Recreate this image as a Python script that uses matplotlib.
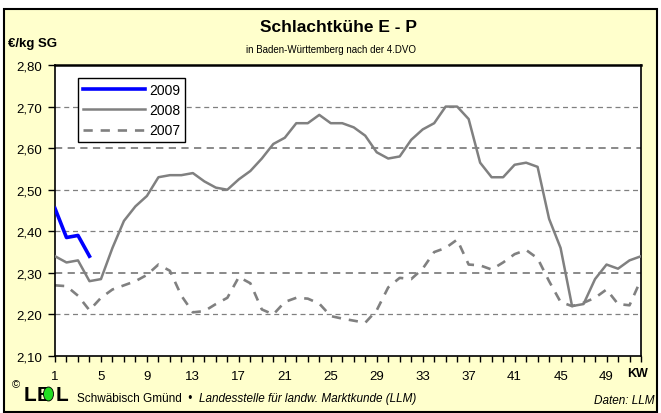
import matplotlib
matplotlib.use("Agg")
import matplotlib.pyplot as plt
from matplotlib.patches import Rectangle, Ellipse
from matplotlib.lines import Line2D

# data (Euro per kg carcass weight, by calendar week)
weeks_2009 = [1, 2, 3, 4]
price_2009 = [2.455, 2.385, 2.39, 2.34]

weeks = list(range(1, 53))
price_2008 = [2.34, 2.325, 2.33, 2.28, 2.285, 2.36, 2.425, 2.46, 2.485, 2.53,
              2.535, 2.535, 2.54, 2.52, 2.505, 2.50, 2.525, 2.545, 2.575, 2.61,
              2.625, 2.66, 2.66, 2.68, 2.66, 2.66, 2.65, 2.63, 2.59, 2.575,
              2.58, 2.62, 2.645, 2.66, 2.70, 2.70, 2.67, 2.565, 2.53, 2.53,
              2.56, 2.565, 2.555, 2.43, 2.36, 2.22, 2.225, 2.285, 2.32, 2.31,
              2.33, 2.34]
price_2007 = [2.27, 2.268, 2.245, 2.21, 2.24, 2.26, 2.27, 2.28, 2.295, 2.32,
              2.305, 2.245, 2.205, 2.208, 2.225, 2.24, 2.29, 2.275, 2.212, 2.20,
              2.23, 2.24, 2.238, 2.226, 2.196, 2.19, 2.185, 2.18, 2.21, 2.265,
              2.288, 2.285, 2.31, 2.35, 2.36, 2.38, 2.32, 2.318, 2.308, 2.325,
              2.345, 2.355, 2.335, 2.28, 2.23, 2.22, 2.228, 2.24, 2.26, 2.225,
              2.222, 2.284]

y_ticks = [2.10, 2.20, 2.30, 2.40, 2.50, 2.60, 2.70, 2.80]
x_labels = [1, 5, 9, 13, 17, 21, 25, 29, 33, 37, 41, 45, 49]

W, H = 661, 414
fig = plt.figure(figsize=(W / 100, H / 100), dpi=100)
fig.patch.set_facecolor("white")


def fx(px):
    return px / W


def fy(py):
    return 1 - py / H


# yellow background with black frame
fig.patches.append(Rectangle((fx(4), fy(413)), fx(657) - fx(4), fy(10) - fy(413),
                             transform=fig.transFigure, facecolor="#FFFFCC",
                             edgecolor="black", linewidth=1.5, zorder=-5))

ax = fig.add_axes([fx(55), fy(357), fx(641) - fx(55), fy(66) - fy(357)])
ax.set_zorder(2)
ax.set_facecolor("white")

gray = "#808080"
for v in y_ticks[1:-1]:
    lw = 1.3 if round(v, 2) in (2.30, 2.60) else 0.9
    ax.axhline(v, color=gray, lw=lw, ls=(0, (4, 3)), zorder=1)

ax.plot(weeks, price_2007, color=gray, lw=1.9, ls=(0, (3.5, 3.0)), zorder=2,
        solid_joinstyle="round")
ax.plot(weeks, price_2008, color=gray, lw=1.8, zorder=3, solid_joinstyle="round")
ax.plot(weeks_2009, price_2009, color="#0000FF", lw=2.6, zorder=4,
        solid_joinstyle="round")

ax.set_xlim(1, 52)
ax.set_ylim(2.10, 2.80)
ax.set_yticks(y_ticks)
ax.set_yticklabels([f"{v:.2f}".replace(".", ",") for v in y_ticks],
                   fontsize=9.5, family="Liberation Sans")
ax.set_xticks(weeks)
ax.set_xticklabels([str(w) if w in x_labels else "" for w in weeks],
                   fontsize=9.5, family="Liberation Sans")
ax.tick_params(axis="y", direction="out", length=5, width=1, pad=4)
ax.tick_params(axis="x", direction="out", length=4, width=1, pad=6)
for s in ax.spines.values():
    s.set_color("black")
    s.set_linewidth(1.2)
ax.spines["top"].set_linewidth(1.8)

handles = [Line2D([], [], color="#0000FF", lw=2.6),
           Line2D([], [], color=gray, lw=1.8),
           Line2D([], [], color=gray, lw=1.9, ls=(0, (3.5, 3.0)))]
leg = ax.legend(handles, ["2009", "2008", "2007"], loc="upper left",
                bbox_to_anchor=(0.039, 0.955), borderaxespad=0, fancybox=False,
                framealpha=1, edgecolor="black", handlelength=4.5,
                handletextpad=0.3, labelspacing=0.45, borderpad=0.35,
                prop={"family": "Liberation Sans", "size": 10})
leg.get_frame().set_linewidth(1.0)

# texts
fig.text(fx(338), fy(28), "Schlachtkühe E - P", ha="center", va="center",
         fontsize=12.5, fontweight="bold", family="Liberation Sans")
fig.text(fx(331), fy(50), "in Baden-Württemberg nach der 4.DVO", ha="center",
         va="center", fontsize=7, family="Liberation Sans")
fig.text(fx(8), fy(44), "€/kg SG", ha="left", va="center", fontsize=9.5,
         fontweight="bold", family="Liberation Sans")
fig.text(fx(638), fy(374), "KW", ha="center", va="center", fontsize=9,
         fontweight="bold", family="Liberation Sans")

# footer with logo
fig.text(fx(12), fy(385), "©", ha="left", va="center", fontsize=8,
         family="Liberation Sans")
fig.text(fx(24), fy(396), "L", ha="left", va="center", fontsize=15,
         fontweight="bold", family="Liberation Sans")
fig.text(fx(37), fy(396), "E", ha="left", va="center", fontsize=15,
         fontweight="bold", family="Liberation Sans")
fig.patches.append(Ellipse((fx(48.5), fy(395)), fx(10), 14 / H,
                           transform=fig.transFigure, facecolor="#22DD22",
                           edgecolor="black", linewidth=0.6, zorder=5))
fig.text(fx(56), fy(396), "L", ha="left", va="center", fontsize=15,
         fontweight="bold", family="Liberation Sans")
fig.text(fx(77), fy(399), "Schwäbisch Gmünd  •  ", ha="left", va="center",
         fontsize=8.5, family="Liberation Sans")
fig.text(fx(199), fy(399), "Landesstelle für landw. Marktkunde (LLM)", ha="left",
         va="center", fontsize=8.5, style="italic", family="Liberation Sans")
fig.text(fx(654), fy(401), "Daten: LLM", ha="right", va="center", fontsize=8.5,
         style="italic", family="Liberation Sans")

fig.savefig("out.png", dpi=100)
